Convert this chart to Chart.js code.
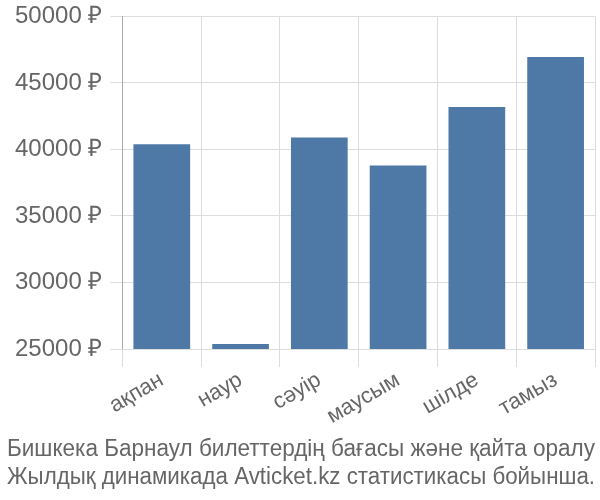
<!DOCTYPE html>
<html>
<head>
<meta charset="utf-8">
<script src="https://cdn.jsdelivr.net/npm/chart.js@4"></script>
<style>
  html, body { margin: 0; padding: 0; background: #fff; }
  #wrap { width: 600px; height: 500px; }
</style>
</head>
<body>
<div id="wrap"><canvas id="myChart" width="600" height="500"></canvas></div>
<script>
// данные графика
const months = ["ақпан", "наур", "сәуір", "маусым", "шілде", "тамыз"];
const prices = [40400, 25370, 40900, 38800, 43200, 46950];
const titleLines = [
  "Бишкека Барнаул билеттердің бағасы және қайта оралу",
  "Жылдық динамикада Avticket.kz статистикасы бойынша."
];

Chart.defaults.font.family = "'Liberation Sans', Arial, sans-serif";
Chart.defaults.color = "#666";

const ctx = document.getElementById("myChart").getContext("2d");
new Chart(ctx, {
  type: "bar",
  data: {
    labels: months,
    datasets: [{
      data: prices,
      backgroundColor: "#4e79a7",
      barPercentage: 0.9,
      categoryPercentage: 0.8
    }]
  },
  options: {
    responsive: false,
    animation: false,
    layout: { padding: { left: 7, right: 5, top: 0, bottom: 0 } },
    plugins: {
      legend: { display: false },
      tooltip: { enabled: false },
      title: {
        display: true,
        position: "bottom",
        text: titleLines,
        color: "#666",
        font: { size: 23, weight: "normal", lineHeight: 1.2 },
        padding: { top: 6, bottom: 9 }
      }
    },
    scales: {
      y: {
        min: 25000,
        max: 50000,
        ticks: {
          stepSize: 5000,
          font: { size: 24, lineHeight: 0.7 },
          color: "#666",
          padding: 8,
          callback: (v) => v + " ₽"
        },
        grid: { color: "#ddd", tickLength: 12 },
        border: { color: "#aaa" }
      },
      x: {
        ticks: {
          font: { size: 22 },
          color: "#666",
          maxRotation: 30,
          minRotation: 30,
          padding: 0
        },
        grid: { color: "#ddd", tickLength: 18, offset: true },
        border: { color: "#ddd" }
      }
    }
  }
});
</script>
</body>
</html>
